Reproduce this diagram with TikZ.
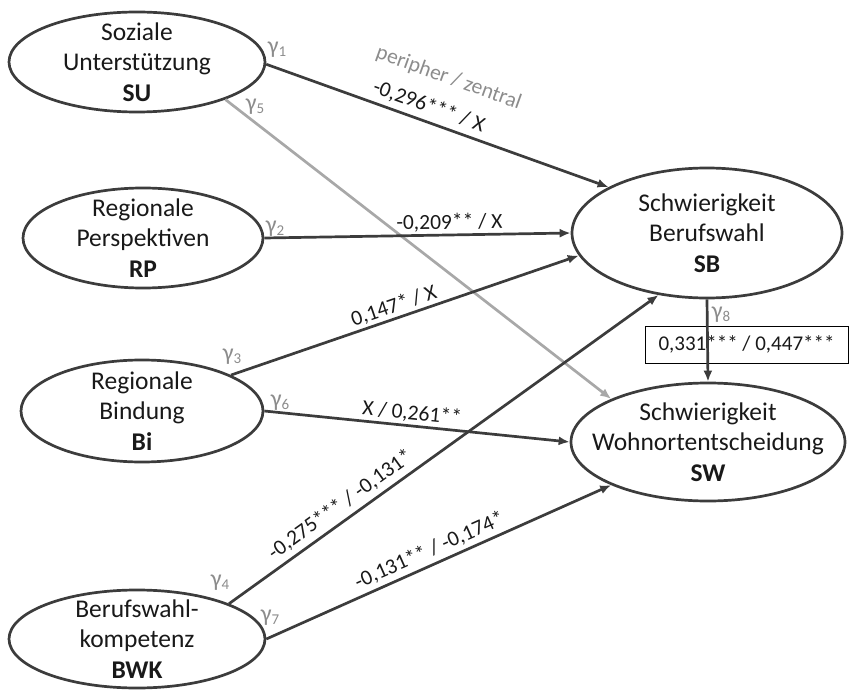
\documentclass[tikz,border=0pt]{standalone}
\usepackage{fontspec}
\setmainfont{Carlito}
\usetikzlibrary{shapes.geometric,arrows.meta}
\definecolor{dk}{HTML}{3C3C3C}
\definecolor{gl}{HTML}{8C8C8C}
\definecolor{gline}{HTML}{A8A8A8}
\newcommand{\gsub}[1]{γ\raisebox{-3pt}{\fontsize{15}{15}\selectfont #1}}
\begin{document}
\begin{tikzpicture}[x=1pt,y=-1pt,
  ell/.style={draw=dk, line width=2.7pt, ellipse, inner sep=0pt},
  etext/.style={align=center, font=\fontsize{25.5}{30.5}\selectfont, text=black!90, inner sep=0pt},
  conn/.style={draw=dk, line width=2.7pt, -{Latex[length=11pt,width=9pt]}},
  gconn/.style={draw=gline, line width=2.7pt, -{Latex[length=11pt,width=9pt]}},
  glab/.style={text=gl, font=\fontsize{24}{24}\selectfont, inner sep=0pt},
  elab/.style={font=\fontsize{21.5}{24}\selectfont, sloped, inner sep=1pt, text=black!90},
  boxlab/.style={draw=black, line width=0.9pt, font=\fontsize{21}{24}\selectfont, minimum width=203pt, minimum height=37pt, inner sep=0pt, text=black!90}
]
\useasboundingbox (0,0) rectangle (849,690);

% ellipses
\node[ell, minimum width=256pt, minimum height=100pt] (SU) at (137,62) {};
\node[etext] (SUt) at (SU.center) {Soziale\\Unterstützung\\\textbf{SU}};
\node[ell, minimum width=240pt, minimum height=100pt] (RP) at (143,238) {};
\node[etext] (RPt) at (RP.center) {Regionale\\Perspektiven\\\textbf{RP}};
\node[ell, minimum width=242pt, minimum height=102pt] (Bi) at (142,411) {};
\node[etext] (Bit) at (Bi.center) {Regionale\\Bindung\\\textbf{Bi}};
\node[ell, minimum width=256pt, minimum height=98pt] (BWK) at (137,639) {};
\node[etext] (BWKt) at (BWK.center) {Berufswahl-\\kompetenz\\\textbf{BWK}};
\node[ell, minimum width=270pt, minimum height=130pt] (SB) at (707,233) {};
\node[etext] (SBt) at (SB.center) {Schwierigkeit\\Berufswahl\\\textbf{SB}};
\node[ell, minimum width=274pt, minimum height=118pt] (SW) at (708,442) {};
\node[etext] (SWt) at (SW.center) {Schwierigkeit\\Wohnortentscheidung\\\textbf{SW}};

% gray path
\draw[gconn] (SU.-23) -- (SW.156);

% dark paths
\draw[conn] (SU.-1) -- (SB.155)
  node[elab, pos=0.46, above=4pt] (l1) {-0,296*** / X}
  node[elab, text=gl, pos=0.485, above=37pt] (l1b) {peripher / zentral};
\draw[conn] (RP.0) -- (SB.180)
  node[elab, pos=0.605, above=1pt] (l2) {-0,209** / X};
\draw[conn] (Bi.22) -- (SB.190)
  node[elab, pos=0.48, above=1pt] (l3) {0,147* / X};
\draw[conn] (Bi.0) -- (SW.180)
  node[elab, pos=0.48, above=1pt] (l6) {X / 0,261**};
\draw[conn] (BWK.21) -- (SB.232)
  node[elab, pos=0.28, above=4pt] (l4) {-0,275*** / -0,131*};
\draw[conn] (BWK.0) -- (SW.204)
  node[elab, pos=0.49, above=3pt] (l7) {-0,131** / -0,174*};

% box and vertical path
\node[boxlab] (box) at (746.5,344.5) {0,331*** / 0,447***};
\draw[conn] (SB.south) -- (SW.north);

% gamma labels
\node[glab] (g1) at (277,50) {\gsub{1}};
\node[glab] (g5) at (255,107) {\gsub{5}};
\node[glab] (g2) at (275,229) {\gsub{2}};
\node[glab] (g3) at (232,357) {\gsub{3}};
\node[glab] (g6) at (280,403) {\gsub{6}};
\node[glab] (g4) at (220,583) {\gsub{4}};
\node[glab] (g7) at (270,618) {\gsub{7}};
\node[glab] (g8) at (721,315) {\gsub{8}};
\end{tikzpicture}
\end{document}
